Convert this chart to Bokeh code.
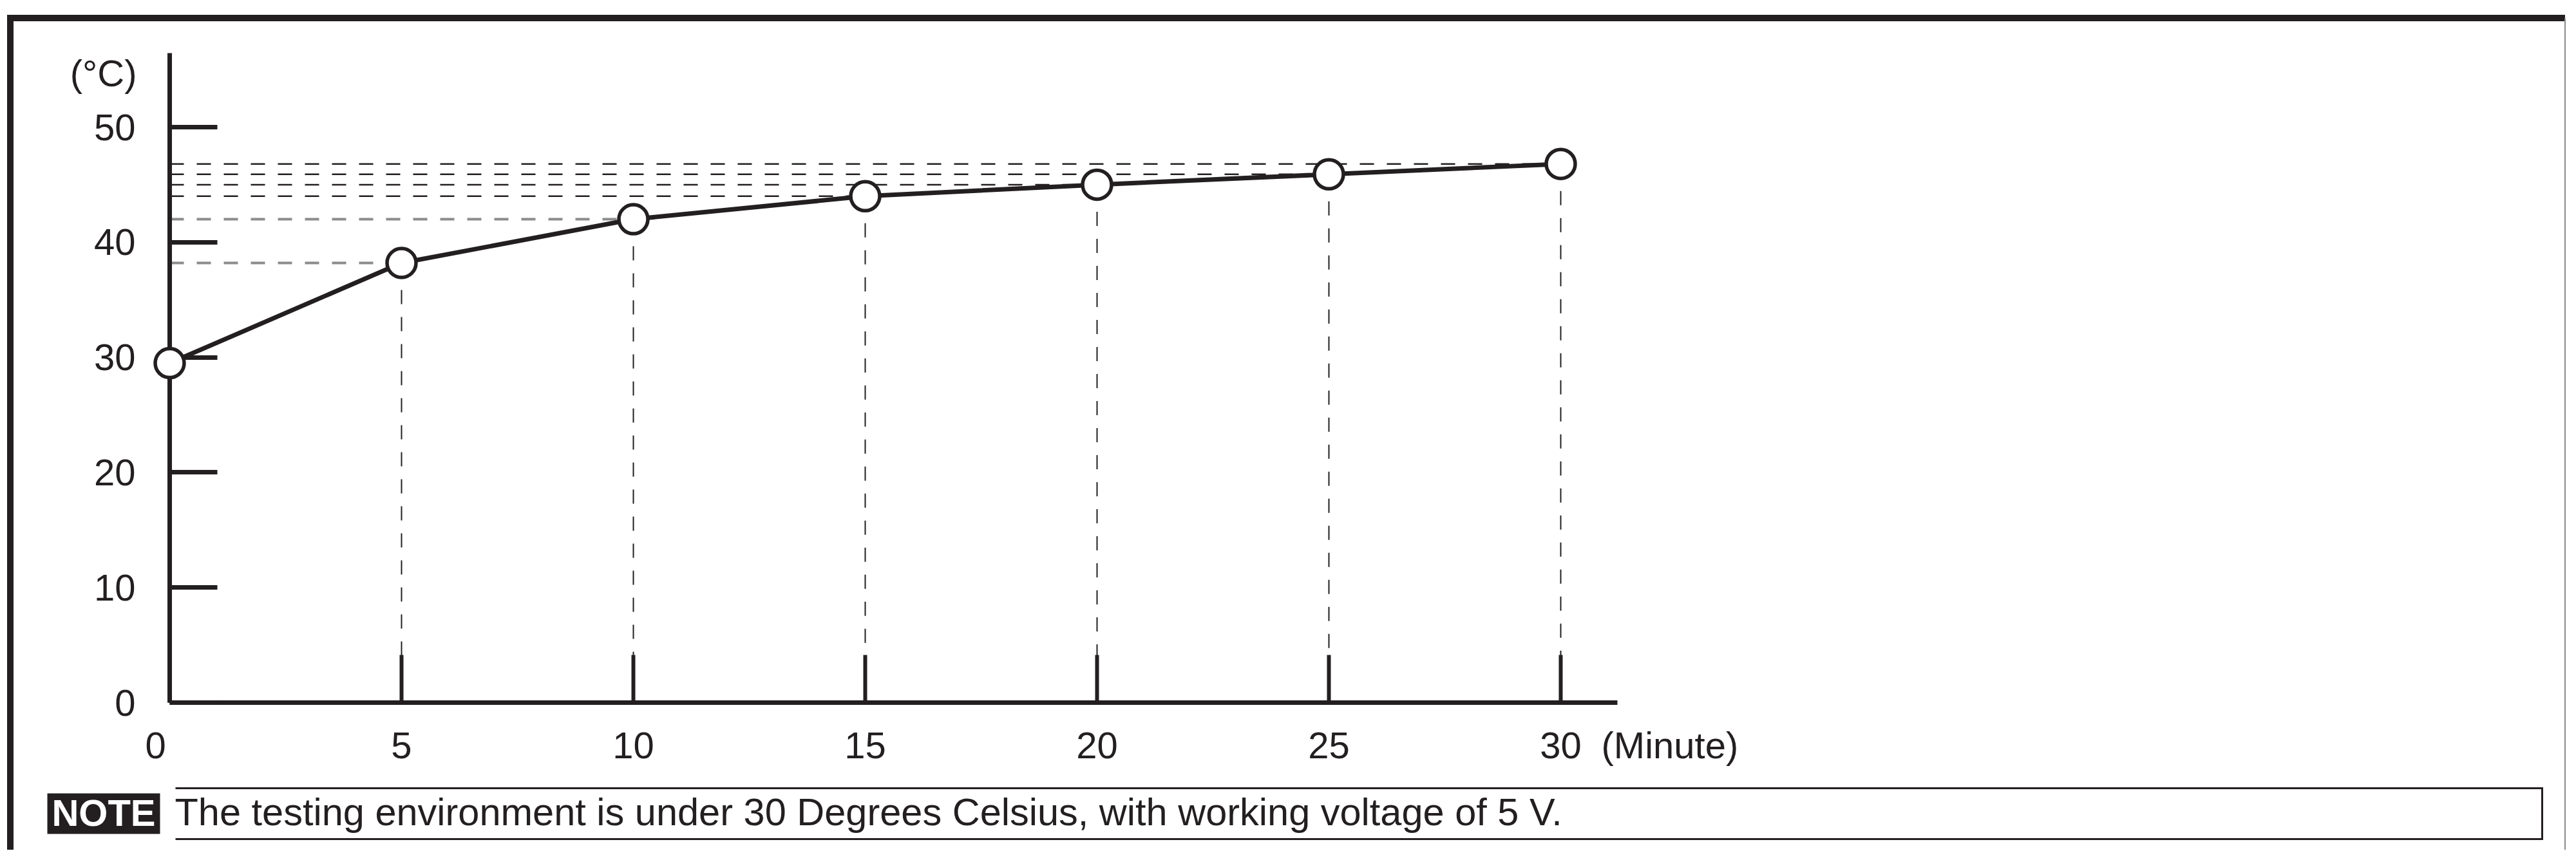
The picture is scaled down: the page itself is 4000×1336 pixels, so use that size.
from bokeh.plotting import figure
from bokeh.models import LinearAxis, FixedTicker, Range1d, ColumnDataSource
from bokeh.core.properties import value
from bokeh.embed import file_html
from bokeh.resources import INLINE

# ---------------- data ----------------
minutes = [0, 5, 10, 15, 20, 25, 30]
temperature_c = [29.5, 38.2, 42.0, 44.0, 45.0, 45.9, 46.8]
x_ticks = [0, 5, 10, 15, 20, 25, 30]
x_tick_labels = ["0", "5", "10", "15", "20", "25", "30"]
y_ticks = [0, 10, 20, 30, 40, 50]
y_tick_labels = ["0", "10", "20", "30", "40", "50"]
x_unit_label = "(Minute)"
y_unit_label = "(°C)"
note_tag = "NOTE"
note_text = "The testing environment is under 30 Degrees Celsius, with working voltage of 5 V."

# ---------------- layout ----------------
W, H = 3984, 1320
X0_PX, Y0_PX = 263, 1091      # pixel of the data origin
XS, YS = 72.0, 17.88          # pixels per data unit
INK = "#231f20"
GRAY = "#8c8c8c"
FONT = "Liberation Sans"
FS = "58px"


def dx(px):
    return (px - X0_PX) / XS


def dy(py):
    return (Y0_PX - py) / YS


p = figure(width=W, height=H,
           x_range=Range1d(dx(0), dx(W)),
           y_range=Range1d(dy(H), dy(0)),
           x_axis_location=None, y_axis_location=None,
           toolbar_location=None, output_backend="svg",
           min_border=0, outline_line_color=None,
           background_fill_color="white", border_fill_color="white")
p.grid.visible = False


def style_axis(ax, tick_w):
    ax.axis_line_width = 7
    ax.axis_line_color = INK
    ax.major_tick_in = 74
    ax.major_tick_out = 0
    ax.major_tick_line_width = tick_w
    ax.major_tick_line_color = INK
    ax.minor_tick_line_color = None
    ax.major_label_text_font = FONT
    ax.major_label_text_font_size = FS
    ax.major_label_text_color = INK


x_labels = dict(zip(x_ticks, x_tick_labels))
x_labels[x_ticks[0]] = x_tick_labels[0] + "\u00a0\u00a0\u2009"
xaxis = LinearAxis(fixed_location=0, bounds=(0, dx(2511)),
                   ticker=FixedTicker(ticks=x_ticks),
                   major_label_overrides=x_labels)
style_axis(xaxis, 6)
xaxis.major_label_standoff = 33
p.add_layout(xaxis, "below")

yaxis = LinearAxis(fixed_location=0, bounds=(0, dy(82)),
                   ticker=FixedTicker(ticks=y_ticks),
                   major_label_overrides=dict(zip(y_ticks, y_tick_labels)))
style_axis(yaxis, 7)
yaxis.major_label_standoff = 53
p.add_layout(yaxis, "left")

# ---------------- guide (reading) lines ----------------
n = len(minutes)
h_src = ColumnDataSource(dict(
    x0=[0] * (n - 1), y0=temperature_c[1:],
    x1=minutes[1:], y1=temperature_c[1:],
    color=[GRAY if i < 2 else INK for i in range(n - 1)],
    w=[4 if i < 2 else 2.5 for i in range(n - 1)],
))
v_src = ColumnDataSource(dict(
    x0=minutes[1:], y0=temperature_c[1:],
    x1=minutes[1:], y1=[0] * (n - 1),
))
p.segment(x0="x0", y0="y0", x1="x1", y1="y1", source=h_src,
          line_color="color", line_width="w", line_dash="22 20")
p.segment(x0="x0", y0="y0", x1="x1", y1="y1", source=v_src,
          line_color=INK, line_width=2, line_dash="22 20")

# ---------------- series ----------------
p.line(minutes, temperature_c, line_width=7, line_color=INK, level="overlay")
p.scatter(minutes, temperature_c, marker="circle", size=45,
          fill_color="white", line_color=INK, line_width=5.5, level="overlay")

# ---------------- unit labels ----------------
p.text(x=[dx(212)], y=[dy(113)], text=[y_unit_label], text_align="right",
       text_baseline="middle", text_font=value(FONT), text_font_size=FS,
       text_color=INK)
p.text(x=[dx(2486)], y=[dy(1157)], text=[x_unit_label], text_align="left",
       text_baseline="middle", text_font=value(FONT), text_font_size=FS,
       text_color=INK)

# ---------------- page frame ----------------
RIGHT = min(3991, W - 1.5)
p.line(x=[dx(15.5), dx(15.5), dx(RIGHT)], y=[dy(1400), dy(27.5), dy(27.5)],
       line_width=10, line_color=INK, line_join="miter")
p.line(x=[dx(RIGHT), dx(RIGHT)], y=[dy(27.5), dy(1400)],
       line_width=2, line_color="#8a8a8a")

# ---------------- note ----------------
p.quad(left=[dx(73)], right=[dx(248)], top=[dy(1232)], bottom=[dy(1295)],
       fill_color=INK, line_color=None)
p.text(x=[dx(160.5)], y=[dy(1262)], text=[note_tag], text_align="center",
       text_baseline="middle", text_font=value(FONT), text_font_style="bold",
       text_font_size=FS, text_color="white")
p.line(x=[dx(272), dx(3947), dx(3947), dx(272)],
       y=[dy(1224), dy(1224), dy(1303), dy(1303)],
       line_width=3, line_color=INK, line_join="miter")
p.text(x=[dx(271)], y=[dy(1261)], text=[note_text], text_align="left",
       text_baseline="middle", text_font=value(FONT), text_font_size="59.5px",
       text_color=INK)

open("out.html", "w").write(file_html(p, INLINE, "chart"))
